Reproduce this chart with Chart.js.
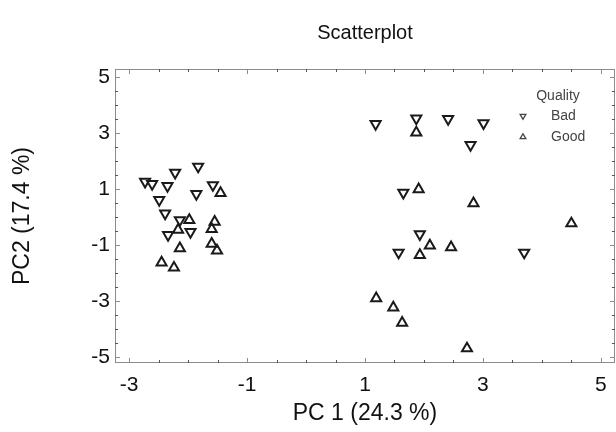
<!DOCTYPE html>
<html>
<head>
<meta charset="utf-8">
<script src="https://cdn.jsdelivr.net/npm/chart.js@4.4.0/dist/chart.umd.min.js"></script>
<style>
  html, body { margin: 0; padding: 0; background: #fff; }
  #wrap { width: 616px; height: 432px; }
</style>
</head>
<body>
<div id="wrap"><canvas id="pcaChart"></canvas></div>
<script>
// PCA scores
var badX  = [-1.83, -2.22, -2.73, -2.61, -2.35, -1.58, -1.86, -2.49, -2.39, -2.14, -1.96, -2.34,
             1.18, 1.87, 2.41, 3.01, 2.79, 1.65, 1.93, 1.57, 3.70];
var badY  = [1.80, 1.58, 1.26, 1.18, 1.11, 1.14, 0.82, 0.61, 0.13, -0.11, -0.53, -0.64,
             3.32, 3.52, 3.50, 3.35, 2.57, 0.87, -0.61, -1.27, -1.27];
var goodX = [-1.45, -1.98, -1.55, -2.17, -1.60, -2.14, -1.60, -1.51, -2.45, -2.24,
             1.87, 1.91, 2.84, 4.50, 2.10, 2.46, 1.93, 1.19, 1.48, 1.63, 2.73];
var goodY = [0.85, -0.11, -0.17, -0.46, -0.43, -1.12, -0.96, -1.20, -1.63, -1.81,
             3.01, 0.99, 0.49, -0.23, -1.02, -1.08, -1.36, -2.90, -3.23, -3.78, -4.69];

var xTickLabels = [-3, -1, 1, 3, 5];
var yTickLabels = [-5, -3, -1, 1, 3, 5];
var groups = ['Bad', 'Good'];

function toPoints(xs, ys) {
    var pts = [];
    for (var i = 0; i < xs.length; i++) pts.push({x: xs[i], y: ys[i]});
    return pts;
}

function labelsFor(id) {
    return id === 'x' ? xTickLabels : yTickLabels;
}

var FONT = "'Liberation Sans', Arial, sans-serif";
var INK = '#1a1a1a';

// frame, inward ticks and the small legend
var framePlugin = {
    id: 'frame',
    afterDraw: function(chart) {
        var ctx = chart.ctx, a = chart.chartArea;
        ctx.save();
        ctx.strokeStyle = '#8c8c8c';
        ctx.lineWidth = 1;
        ctx.strokeRect(a.left + 0.5, a.top + 0.5, a.right - a.left - 1, a.bottom - a.top - 1);

        ['x', 'y'].forEach(function(id) {
            var s = chart.scales[id];
            s.ticks.forEach(function(t) {
                if (t.value < s.min || t.value > s.max) return;
                var p = Math.round(s.getPixelForValue(t.value)) + 0.5;
                var major = labelsFor(id).indexOf(t.value) >= 0;
                var len = major ? 5 : 3;
                ctx.strokeStyle = major ? '#8c8c8c' : '#555';
                ctx.beginPath();
                if (id === 'x') {
                    ctx.moveTo(p, a.bottom); ctx.lineTo(p, a.bottom - len);
                    ctx.moveTo(p, a.top); ctx.lineTo(p, a.top + len);
                } else {
                    ctx.moveTo(a.left, p); ctx.lineTo(a.left + len, p);
                    ctx.moveTo(a.right, p); ctx.lineTo(a.right - len, p);
                }
                ctx.stroke();
            });
        });

        // legend
        var lx = a.right - 92, ly = a.top + 27;
        ctx.font = '14px ' + FONT;
        ctx.textBaseline = 'middle';
        ctx.textAlign = 'center';
        ctx.fillStyle = '#444';
        ctx.fillText('Quality', lx + 35, ly);
        ctx.textAlign = 'left';
        chart.data.datasets.forEach(function(ds, i) {
            var y = ly + 20 + i * 21;
            ctx.strokeStyle = '#444';
            ctx.fillStyle = '#fff';
            ctx.lineWidth = 1.3;
            Chart.helpers.drawPoint(ctx, {pointStyle: 'triangle', radius: 3.3, rotation: ds.pointRotation, borderWidth: 1.3}, lx, y);
            ctx.fillStyle = '#444';
            ctx.fillText(groups[i], lx + 28, y);
        });
        ctx.restore();
    }
};

var ctx = document.getElementById('pcaChart').getContext('2d');
var chart = new Chart(ctx, {
    type: 'scatter',
    data: {
        datasets: [{
            label: groups[0],
            data: toPoints(badX, badY),
            pointStyle: 'triangle',
            pointRotation: 180,
            pointRadius: 5.8,
            borderWidth: 2,
            borderColor: INK,
            backgroundColor: 'rgba(255,255,255,0)'
        }, {
            label: groups[1],
            data: toPoints(goodX, goodY),
            pointStyle: 'triangle',
            pointRotation: 0,
            pointRadius: 5.8,
            borderWidth: 2,
            borderColor: INK,
            backgroundColor: 'rgba(255,255,255,0)'
        }]
    },
    options: {
        responsive: true,
        maintainAspectRatio: false,
        animation: false,
        events: [],
        layout: { autoPadding: false, padding: { left: 0, right: 1, top: 0, bottom: 0 } },
        plugins: {
            legend: { display: false },
            tooltip: { enabled: false },
            title: {
                display: true,
                text: 'Scatterplot',
                fullSize: false,
                color: '#111',
                font: { family: FONT, size: 20, weight: 'normal' },
                padding: { top: 21, bottom: 24 }
            }
        },
        scales: {
            x: {
                type: 'linear',
                min: -3.24,
                max: 5.24,
                grid: { display: false, drawTicks: false },
                border: { display: false },
                ticks: {
                    stepSize: 0.5,
                    maxTicksLimit: 100,
                    includeBounds: false,
                    autoSkip: false,
                    maxRotation: 0,
                    padding: 10,
                    color: '#111',
                    font: { family: FONT, size: 21 },
                    callback: function(v) { return xTickLabels.indexOf(v) >= 0 ? String(v) : ''; }
                },
                title: {
                    display: true,
                    text: 'PC 1 (24.3 %)',
                    color: '#111',
                    font: { family: FONT, size: 23 },
                    padding: { top: 0, bottom: 5 }
                },
                afterFit: function(s) {
                    s.height = 69;
                    s.paddingLeft = 0;
                    s.paddingRight = 0;
                }
            },
            y: {
                type: 'linear',
                min: -5.21,
                max: 5.28,
                grid: { display: false, drawTicks: false },
                border: { display: false },
                ticks: {
                    stepSize: 0.5,
                    maxTicksLimit: 100,
                    includeBounds: false,
                    autoSkip: false,
                    padding: 5,
                    color: '#111',
                    font: { family: FONT, size: 21 },
                    callback: function(v) { return yTickLabels.indexOf(v) >= 0 ? String(v) : ''; }
                },
                title: {
                    display: true,
                    text: 'PC2 (17.4 %)',
                    color: '#111',
                    font: { family: FONT, size: 23 },
                    padding: { top: 9, bottom: 0 }
                },
                afterFit: function(s) {
                    s.width = 115;
                    s.paddingTop = 0;
                    s.paddingBottom = 0;
                }
            }
        }
    },
    plugins: [framePlugin]
});
</script>
</body>
</html>
